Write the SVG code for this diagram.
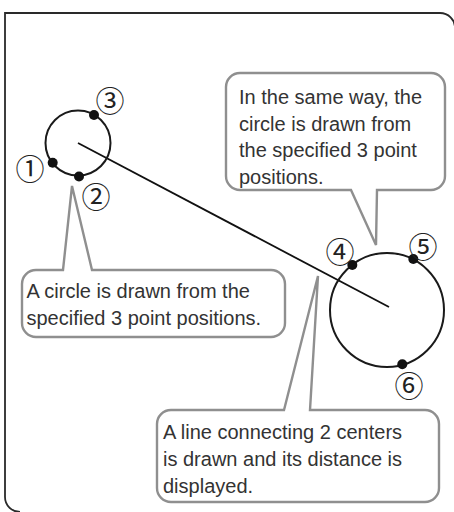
<svg xmlns="http://www.w3.org/2000/svg" width="454" height="512" viewBox="0 0 454 512">
<style>
.frame{fill:none;stroke:#2a2a2a;stroke-width:1.8}
.callout{fill:#fff;stroke:#8f8f8f;stroke-width:2.4;stroke-linejoin:miter}
.txt{font-family:"Liberation Sans",Arial,sans-serif;font-size:20px;fill:#333}
.circ{fill:none;stroke:#1a1a1a;stroke-width:2}
.dot{fill:#111}
.num{font-family:"Noto Sans CJK JP","DejaVu Sans",sans-serif;font-size:29px;fill:#222;text-anchor:middle;dominant-baseline:central}
.conn{stroke:#111;stroke-width:1.8;fill:none}
</style>
<rect width="454" height="512" fill="#fff"/>
<path class="frame" d="M 20 512 A 15 15 0 0 1 5 497 V 13 H 440 A 15 15 0 0 1 455 28 V 520"/>
<g id="connectors">
<line class="conn" x1="78" y1="143" x2="389" y2="307"/>
</g>
<g id="circle1">
<circle class="circ" cx="78" cy="143" r="32.5"/>
<circle class="dot" cx="94" cy="115" r="5"/>
<circle class="dot" cx="52.7" cy="162.7" r="5"/>
<circle class="dot" cx="79" cy="176.5" r="5"/>
<text class="num" x="110" y="99">③</text>
<text class="num" x="30" y="167">①</text>
<text class="num" x="96" y="195">②</text>
</g>
<g id="circle2">
<circle class="circ" cx="387" cy="310" r="57"/>
<circle class="dot" cx="352.3" cy="265" r="5"/>
<circle class="dot" cx="413.3" cy="259" r="5"/>
<circle class="dot" cx="402.3" cy="364.3" r="5"/>
<text class="num" x="340" y="250">④</text>
<text class="num" x="423" y="245">⑤</text>
<text class="num" x="409" y="384">⑥</text>
</g>
<g id="callout1">
<path class="callout" d="M 36 270 H 63 L 72 186 L 92 270 H 271 A 14 14 0 0 1 285 284 V 323 A 14 14 0 0 1 271 337 H 36 A 14 14 0 0 1 22 323 V 284 A 14 14 0 0 1 36 270 Z"/>
<text class="txt" x="26.5" y="298">A circle is drawn from the</text>
<text class="txt" x="26.5" y="325">specified 3 point positions.</text>
</g>
<g id="callout2">
<path class="callout" d="M 240 73 H 431 A 14 14 0 0 1 445 87 V 176 A 14 14 0 0 1 431 190 H 377 L 376 245 L 351 190 H 240 A 14 14 0 0 1 226 176 V 87 A 14 14 0 0 1 240 73 Z"/>
<text class="txt" x="239" y="104">In the same way, the</text>
<text class="txt" x="239" y="130.5">circle is drawn from</text>
<text class="txt" x="239" y="157">the specified 3 point</text>
<text class="txt" x="239" y="183.5">positions.</text>
</g>
<g id="callout3">
<path class="callout" d="M 171 410 H 284 L 318 276 L 310 410 H 425 A 14 14 0 0 1 439 424 V 488 A 14 14 0 0 1 425 502 H 171 A 14 14 0 0 1 157 488 V 424 A 14 14 0 0 1 171 410 Z"/>
<text class="txt" x="163" y="439">A line connecting 2 centers</text>
<text class="txt" x="163" y="466">is drawn and its distance is</text>
<text class="txt" x="163" y="493">displayed.</text>
</g>
</svg>
